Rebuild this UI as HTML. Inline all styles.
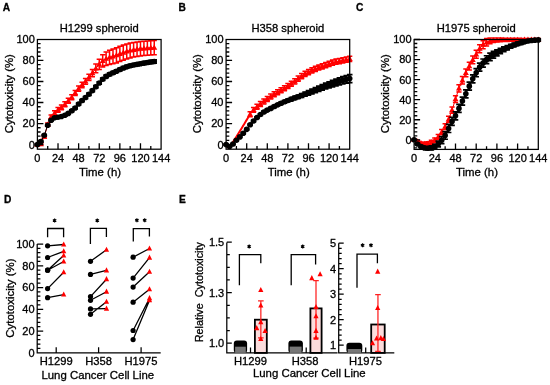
<!DOCTYPE html>
<html><head><meta charset="utf-8"><style>
html,body{margin:0;padding:0;background:#fff;width:550px;height:385px;overflow:hidden}
svg{display:block;will-change:transform;filter:blur(0.3px)}
text{fill:#000;stroke:#000;stroke-width:0.3px}
</style></head><body>
<svg width="550" height="385" viewBox="0 0 550 385" font-family='"Liberation Sans", sans-serif'>
<rect width="550" height="385" fill="#fff"/>
<text x="2.8" y="10.8" font-size="10.2" font-weight="bold">A</text>
<text x="178.4" y="10.8" font-size="10.2" font-weight="bold">B</text>
<text x="356.0" y="10.8" font-size="10.2" font-weight="bold">C</text>
<text x="4.0" y="203.3" font-size="10.2" font-weight="bold">D</text>
<text x="179.0" y="202.9" font-size="10.2" font-weight="bold">E</text>
<text x="99.25" y="31.7" font-size="11.2" text-anchor="middle">H1299 spheroid</text>
<path d="M37.4 144.07V145.13M34.8 144.07H40M34.8 145.13H40M40.84 143.17V144.97M38.24 143.17H43.44M38.24 144.97H43.44M44.27 135.46V137.96M41.67 135.46H46.87M41.67 137.96H46.87M47.71 123.03V126.19M45.11 123.03H50.31M45.11 126.19H50.31M51.14 115.05V118.89M48.54 115.05H53.74M48.54 118.89H53.74M54.58 110.8V115.28M51.98 110.8H57.18M51.98 115.28H57.18M58.02 107.42V112.26M55.42 107.42H60.62M55.42 112.26H60.62M61.45 104.92V109.87M58.85 104.92H64.05M58.85 109.87H64.05M64.89 101.77V106.79M62.29 101.77H67.49M62.29 106.79H67.49M68.32 98.28V103.34M65.72 98.28H70.92M65.72 103.34H70.92M71.76 94.71V99.81M69.16 94.71H74.36M69.16 99.81H74.36M75.2 90.38V95.54M72.6 90.38H77.8M72.6 95.54H77.8M78.63 85.94V91.2M76.03 85.94H81.23M76.03 91.2H81.23M82.07 82.17V87.63M79.47 82.17H84.67M79.47 87.63H84.67M85.51 78.47V84.29M82.91 78.47H88.11M82.91 84.29H88.11M88.94 74.23V80.55M86.34 74.23H91.54M86.34 80.55H91.54M92.38 69.43V76.7M89.78 69.43H94.98M89.78 76.7H94.98M95.81 64.12V72.84M93.21 64.12H98.41M93.21 72.84H98.41M99.25 59.19V69.49M96.65 59.19H101.85M96.65 69.49H101.85M102.69 54.83V67.1M100.09 54.83H105.29M100.09 67.1H105.29M106.12 51.92V65.59M103.52 51.92H108.72M103.52 65.59H108.72M109.56 50.24V64.61M106.96 50.24H112.16M106.96 64.61H112.16M112.99 48.93V63.85M110.39 48.93H115.59M110.39 63.85H115.59M116.43 47.63V62.9M113.83 47.63H119.03M113.83 62.9H119.03M119.87 46.19V61.54M117.27 46.19H122.47M117.27 61.54H122.47M123.3 44.94V60.16M120.7 44.94H125.9M120.7 60.16H125.9M126.74 43.96V58.96M124.14 43.96H129.34M124.14 58.96H129.34M130.17 43.12V57.92M127.57 43.12H132.77M127.57 57.92H132.77M133.61 42.44V57.12M131.01 42.44H136.21M131.01 57.12H136.21M137.05 41.88V56.46M134.45 41.88H139.65M134.45 56.46H139.65M140.48 41.47V55.96M137.88 41.47H143.08M137.88 55.96H143.08M143.92 41.19V55.61M141.32 41.19H146.52M141.32 55.61H146.52M147.36 40.96V55.33M144.76 40.96H149.96M144.76 55.33H149.96M150.79 40.75V55.07M148.19 40.75H153.39M148.19 55.07H153.39M154.23 40.56V54.86M151.63 40.56H156.83M151.63 54.86H156.83" stroke="#ff0000" stroke-width="1.5" fill="none"/>
<polyline points="37.4,144.6 40.84,144.07 44.27,136.71 47.71,124.61 51.14,116.97 54.58,113.04 58.02,109.84 61.45,107.4 64.89,104.28 68.32,100.81 71.76,97.26 75.2,92.96 78.63,88.57 82.07,84.9 85.51,81.38 88.94,77.39 92.38,73.06 95.81,68.48 99.25,64.34 102.69,60.97 106.12,58.76 109.56,57.43 112.99,56.39 116.43,55.26 119.87,53.87 123.3,52.55 126.74,51.46 130.17,50.52 133.61,49.78 137.05,49.17 140.48,48.72 143.92,48.4 147.36,48.14 150.79,47.91 154.23,47.71" stroke="#ff0000" stroke-width="1" fill="none"/>
<path d="M37.4 141.5L40.4 146.7L34.4 146.7Z" fill="#ff0000"/>
<path d="M40.84 140.97L43.84 146.17L37.84 146.17Z" fill="#ff0000"/>
<path d="M44.27 133.61L47.27 138.81L41.27 138.81Z" fill="#ff0000"/>
<path d="M47.71 121.51L50.71 126.71L44.71 126.71Z" fill="#ff0000"/>
<path d="M51.14 113.87L54.14 119.07L48.14 119.07Z" fill="#ff0000"/>
<path d="M54.58 109.94L57.58 115.14L51.58 115.14Z" fill="#ff0000"/>
<path d="M58.02 106.74L61.02 111.94L55.02 111.94Z" fill="#ff0000"/>
<path d="M61.45 104.3L64.45 109.5L58.45 109.5Z" fill="#ff0000"/>
<path d="M64.89 101.18L67.89 106.38L61.89 106.38Z" fill="#ff0000"/>
<path d="M68.32 97.71L71.32 102.91L65.32 102.91Z" fill="#ff0000"/>
<path d="M71.76 94.16L74.76 99.36L68.76 99.36Z" fill="#ff0000"/>
<path d="M75.2 89.86L78.2 95.06L72.2 95.06Z" fill="#ff0000"/>
<path d="M78.63 85.47L81.63 90.67L75.63 90.67Z" fill="#ff0000"/>
<path d="M82.07 81.8L85.07 87L79.07 87Z" fill="#ff0000"/>
<path d="M85.51 78.28L88.51 83.48L82.51 83.48Z" fill="#ff0000"/>
<path d="M88.94 74.29L91.94 79.49L85.94 79.49Z" fill="#ff0000"/>
<path d="M92.38 69.96L95.38 75.16L89.38 75.16Z" fill="#ff0000"/>
<path d="M95.81 65.38L98.81 70.58L92.81 70.58Z" fill="#ff0000"/>
<path d="M99.25 61.24L102.25 66.44L96.25 66.44Z" fill="#ff0000"/>
<path d="M102.69 57.87L105.69 63.07L99.69 63.07Z" fill="#ff0000"/>
<path d="M106.12 55.66L109.12 60.86L103.12 60.86Z" fill="#ff0000"/>
<path d="M109.56 54.33L112.56 59.53L106.56 59.53Z" fill="#ff0000"/>
<path d="M112.99 53.29L115.99 58.49L109.99 58.49Z" fill="#ff0000"/>
<path d="M116.43 52.16L119.43 57.36L113.43 57.36Z" fill="#ff0000"/>
<path d="M119.87 50.77L122.87 55.97L116.87 55.97Z" fill="#ff0000"/>
<path d="M123.3 49.45L126.3 54.65L120.3 54.65Z" fill="#ff0000"/>
<path d="M126.74 48.36L129.74 53.56L123.74 53.56Z" fill="#ff0000"/>
<path d="M130.17 47.42L133.17 52.62L127.17 52.62Z" fill="#ff0000"/>
<path d="M133.61 46.68L136.61 51.88L130.61 51.88Z" fill="#ff0000"/>
<path d="M137.05 46.07L140.05 51.27L134.05 51.27Z" fill="#ff0000"/>
<path d="M140.48 45.62L143.48 50.82L137.48 50.82Z" fill="#ff0000"/>
<path d="M143.92 45.3L146.92 50.5L140.92 50.5Z" fill="#ff0000"/>
<path d="M147.36 45.04L150.36 50.24L144.36 50.24Z" fill="#ff0000"/>
<path d="M150.79 44.81L153.79 50.01L147.79 50.01Z" fill="#ff0000"/>
<path d="M154.23 44.61L157.23 49.81L151.23 49.81Z" fill="#ff0000"/>
<path d="M37.4 144.07V145.13M34.6 144.07H40.2M34.6 145.13H40.2M40.84 141.1V142.23M38.04 141.1H43.64M38.04 142.23H43.64M44.27 134.64V135.85M41.47 134.64H47.07M41.47 135.85H47.07M47.71 124.58V125.86M44.91 124.58H50.51M44.91 125.86H50.51M51.14 119.6V120.96M48.34 119.6H53.94M48.34 120.96H53.94M54.58 117.15V118.58M51.78 117.15H57.38M51.78 118.58H57.38M58.02 116.5V118M55.22 116.5H60.82M55.22 118H60.82M61.45 115.68V117.25M58.65 115.68H64.25M58.65 117.25H64.25M64.89 114.49V116.13M62.09 114.49H67.69M62.09 116.13H67.69M68.32 112.55V114.26M65.52 112.55H71.12M65.52 114.26H71.12M71.76 109.93V111.71M68.96 109.93H74.56M68.96 111.71H74.56M75.2 107.07V108.91M72.4 107.07H78M72.4 108.91H78M78.63 103.1V105.01M75.83 103.1H81.43M75.83 105.01H81.43M82.07 99.57V101.55M79.27 99.57H84.87M79.27 101.55H84.87M85.51 96.52V98.56M82.71 96.52H88.31M82.71 98.56H88.31M88.94 93.21V95.32M86.14 93.21H91.74M86.14 95.32H91.74M92.38 89.54V91.7M89.58 89.54H95.18M89.58 91.7H95.18M95.81 85.7V87.93M93.01 85.7H98.61M93.01 87.93H98.61M99.25 81.82V84.11M96.45 81.82H102.05M96.45 84.11H102.05M102.69 78.1V80.44M99.89 78.1H105.49M99.89 80.44H105.49M106.12 75.17V77.58M103.32 75.17H108.92M103.32 77.58H108.92M109.56 73.12V75.59M106.76 73.12H112.36M106.76 75.59H112.36M112.99 71.5V74.03M110.19 71.5H115.79M110.19 74.03H115.79M116.43 69.93V72.51M113.63 69.93H119.23M113.63 72.51H119.23M119.87 68.23V70.87M117.07 68.23H122.67M117.07 70.87H122.67M123.3 66.68V69.38M120.5 66.68H126.1M120.5 69.38H126.1M126.74 65.45V68.2M123.94 65.45H129.54M123.94 68.2H129.54M130.17 64.41V67.22M127.37 64.41H132.97M127.37 67.22H132.97M133.61 63.58V66.43M130.81 63.58H136.41M130.81 66.43H136.41M137.05 62.89V65.8M134.25 62.89H139.85M134.25 65.8H139.85M140.48 62.25V65.21M137.68 62.25H143.28M137.68 65.21H143.28M143.92 61.61V64.62M141.12 61.61H146.72M141.12 64.62H146.72M147.36 61.01V64.07M144.56 61.01H150.16M144.56 64.07H150.16M150.79 60.45V63.56M147.99 60.45H153.59M147.99 63.56H153.59M154.23 59.91V63.07M151.43 59.91H157.03M151.43 63.07H157.03" stroke="#000" stroke-width="1.7" fill="none"/>
<polyline points="37.4,144.6 40.84,141.66 44.27,135.25 47.71,125.22 51.14,120.28 54.58,117.86 58.02,117.25 61.45,116.47 64.89,115.31 68.32,113.4 71.76,110.82 75.2,107.99 78.63,104.06 82.07,100.56 85.51,97.54 88.94,94.27 92.38,90.62 95.81,86.82 99.25,82.97 102.69,79.27 106.12,76.38 109.56,74.36 112.99,72.76 116.43,71.22 119.87,69.55 123.3,68.03 126.74,66.83 130.17,65.82 133.61,65 137.05,64.34 140.48,63.73 143.92,63.12 147.36,62.54 150.79,62 154.23,61.49" stroke="#000" stroke-width="1" fill="none"/>
<circle cx="37.4" cy="144.6" r="2.8" fill="#000"/>
<circle cx="40.84" cy="141.66" r="2.8" fill="#000"/>
<circle cx="44.27" cy="135.25" r="2.8" fill="#000"/>
<circle cx="47.71" cy="125.22" r="2.8" fill="#000"/>
<circle cx="51.14" cy="120.28" r="2.8" fill="#000"/>
<circle cx="54.58" cy="117.86" r="2.8" fill="#000"/>
<circle cx="58.02" cy="117.25" r="2.8" fill="#000"/>
<circle cx="61.45" cy="116.47" r="2.8" fill="#000"/>
<circle cx="64.89" cy="115.31" r="2.8" fill="#000"/>
<circle cx="68.32" cy="113.4" r="2.8" fill="#000"/>
<circle cx="71.76" cy="110.82" r="2.8" fill="#000"/>
<circle cx="75.2" cy="107.99" r="2.8" fill="#000"/>
<circle cx="78.63" cy="104.06" r="2.8" fill="#000"/>
<circle cx="82.07" cy="100.56" r="2.8" fill="#000"/>
<circle cx="85.51" cy="97.54" r="2.8" fill="#000"/>
<circle cx="88.94" cy="94.27" r="2.8" fill="#000"/>
<circle cx="92.38" cy="90.62" r="2.8" fill="#000"/>
<circle cx="95.81" cy="86.82" r="2.8" fill="#000"/>
<circle cx="99.25" cy="82.97" r="2.8" fill="#000"/>
<circle cx="102.69" cy="79.27" r="2.8" fill="#000"/>
<circle cx="106.12" cy="76.38" r="2.8" fill="#000"/>
<circle cx="109.56" cy="74.36" r="2.8" fill="#000"/>
<circle cx="112.99" cy="72.76" r="2.8" fill="#000"/>
<circle cx="116.43" cy="71.22" r="2.8" fill="#000"/>
<circle cx="119.87" cy="69.55" r="2.8" fill="#000"/>
<circle cx="123.3" cy="68.03" r="2.8" fill="#000"/>
<circle cx="126.74" cy="66.83" r="2.8" fill="#000"/>
<circle cx="130.17" cy="65.82" r="2.8" fill="#000"/>
<circle cx="133.61" cy="65" r="2.8" fill="#000"/>
<circle cx="137.05" cy="64.34" r="2.8" fill="#000"/>
<circle cx="140.48" cy="63.73" r="2.8" fill="#000"/>
<circle cx="143.92" cy="63.12" r="2.8" fill="#000"/>
<circle cx="147.36" cy="62.54" r="2.8" fill="#000"/>
<circle cx="150.79" cy="62" r="2.8" fill="#000"/>
<circle cx="154.23" cy="61.49" r="2.8" fill="#000"/>
<rect x="37.4" y="39.5" width="123.7" height="109.7" fill="none" stroke="#000" stroke-width="1.25"/>
<path d="M37.4 144.6h6M37.4 140.39h3.2M37.4 136.18h3.2M37.4 131.98h3.2M37.4 127.77h3.2M37.4 123.56h6M37.4 119.35h3.2M37.4 115.14h3.2M37.4 110.94h3.2M37.4 106.73h3.2M37.4 102.52h6M37.4 98.31h3.2M37.4 94.1h3.2M37.4 89.9h3.2M37.4 85.69h3.2M37.4 81.48h6M37.4 77.27h3.2M37.4 73.06h3.2M37.4 68.86h3.2M37.4 64.65h3.2M37.4 60.44h6M37.4 56.23h3.2M37.4 52.02h3.2M37.4 47.82h3.2M37.4 43.61h3.2M47.71 149.2v-3.2M58.02 149.2v-6M68.32 149.2v-3.2M78.63 149.2v-6M88.94 149.2v-3.2M99.25 149.2v-6M109.56 149.2v-3.2M119.87 149.2v-6M130.17 149.2v-3.2M140.48 149.2v-6M150.79 149.2v-3.2" stroke="#000" stroke-width="1.3" fill="none"/>
<text x="34.8" y="148.5" font-size="11.0" text-anchor="end">0</text>
<text x="34.8" y="127.46" font-size="11.0" text-anchor="end">20</text>
<text x="34.8" y="106.42" font-size="11.0" text-anchor="end">40</text>
<text x="34.8" y="85.38" font-size="11.0" text-anchor="end">60</text>
<text x="34.8" y="64.34" font-size="11.0" text-anchor="end">80</text>
<text x="34.8" y="43.3" font-size="11.0" text-anchor="end">100</text>
<text x="37.4" y="162.3" font-size="11.0" text-anchor="middle">0</text>
<text x="58.02" y="162.3" font-size="11.0" text-anchor="middle">24</text>
<text x="78.63" y="162.3" font-size="11.0" text-anchor="middle">48</text>
<text x="99.25" y="162.3" font-size="11.0" text-anchor="middle">72</text>
<text x="119.87" y="162.3" font-size="11.0" text-anchor="middle">96</text>
<text x="140.48" y="162.3" font-size="11.0" text-anchor="middle">120</text>
<text x="161.1" y="162.3" font-size="11.0" text-anchor="middle">144</text>
<text x="100.05" y="175.8" font-size="11.4" text-anchor="middle">Time (h)</text>
<text transform="translate(12.8,93.65) rotate(-90)" font-size="11.4" text-anchor="middle">Cytotoxicity (%)</text>
<text x="287.9" y="31.7" font-size="11.2" text-anchor="middle">H358 spheroid</text>
<path d="M250.13 111.86V116.74M247.53 111.86H252.73M247.53 116.74H252.73M253.57 107.43V112.34M250.97 107.43H256.17M250.97 112.34H256.17M257 104.37V109.32M254.4 104.37H259.6M254.4 109.32H259.6M260.43 101.61V106.58M257.83 101.61H263.03M257.83 106.58H263.03M263.87 98.97V103.97M261.27 98.97H266.47M261.27 103.97H266.47M267.3 96.44V101.46M264.7 96.44H269.9M264.7 101.46H269.9M270.73 94.04V99.09M268.13 94.04H273.33M268.13 99.09H273.33M274.17 91.79V96.86M271.57 91.79H276.77M271.57 96.86H276.77M277.6 89.7V94.79M275 89.7H280.2M275 94.79H280.2M281.03 87.75V92.87M278.43 87.75H283.63M278.43 92.87H283.63M284.47 85.69V90.82M281.87 85.69H287.07M281.87 90.82H287.07M287.9 83.47V88.61M285.3 83.47H290.5M285.3 88.61H290.5M291.33 81.14V86.3M288.73 81.14H293.93M288.73 86.3H293.93M294.77 78.7V83.88M292.17 78.7H297.37M292.17 83.88H297.37M298.2 76.05V81.24M295.6 76.05H300.8M295.6 81.24H300.8M301.63 73.49V78.69M299.03 73.49H304.23M299.03 78.69H304.23M305.07 71.33V76.54M302.47 71.33H307.67M302.47 76.54H307.67M308.5 69.42V74.64M305.9 69.42H311.1M305.9 74.64H311.1M311.93 67.71V72.94M309.33 67.71H314.53M309.33 72.94H314.53M315.37 66.2V71.43M312.77 66.2H317.97M312.77 71.43H317.97M318.8 64.88V70.12M316.2 64.88H321.4M316.2 70.12H321.4M322.23 63.68V68.93M319.63 63.68H324.83M319.63 68.93H324.83M325.67 62.49V67.74M323.07 62.49H328.27M323.07 67.74H328.27M329.1 61.2V66.46M326.5 61.2H331.7M326.5 66.46H331.7M332.53 59.99V65.25M329.93 59.99H335.13M329.93 65.25H335.13M335.97 59.09V64.34M333.37 59.09H338.57M333.37 64.34H338.57M339.4 58.4V63.66M336.8 58.4H342M336.8 63.66H342M342.83 57.74V63M340.23 57.74H345.43M340.23 63H345.43M346.27 57V62.26M343.67 57H348.87M343.67 62.26H348.87M349.7 56.23V61.49M347.1 56.23H352.3M347.1 61.49H352.3" stroke="#ff0000" stroke-width="1.5" fill="none"/>
<polyline points="226.1,144.6 229.53,147.76 232.97,142.08 236.4,136.71 239.83,131.24 243.27,125.56 246.7,119.88 250.13,114.3 253.57,109.88 257,106.84 260.43,104.09 263.87,101.47 267.3,98.95 270.73,96.56 274.17,94.33 277.6,92.25 281.03,90.31 284.47,88.26 287.9,86.04 291.33,83.72 294.77,81.29 298.2,78.64 301.63,76.09 305.07,73.93 308.5,72.03 311.93,70.33 315.37,68.81 318.8,67.5 322.23,66.3 325.67,65.11 329.1,63.83 332.53,62.62 335.97,61.71 339.4,61.03 342.83,60.37 346.27,59.63 349.7,58.86" stroke="#ff0000" stroke-width="1" fill="none"/>
<polyline points="226.1,144.6 226.96,146.33 227.82,147.27 228.67,147.67 229.53,147.76 230.39,146.79 231.25,145.13 232.11,143.61 232.97,142.08 233.82,140.68 234.68,139.35 235.54,138.04 236.4,136.71 237.26,135.35 238.12,133.99 238.97,132.62 239.83,131.24 240.69,129.83 241.55,128.41 242.41,126.98 243.27,125.56 244.12,124.14 244.98,122.71 245.84,121.29 246.7,119.88 247.56,118.45 248.42,117 249.27,115.6 250.13,114.3" stroke="#ff0000" stroke-width="2.0" fill="none" stroke-linejoin="round"/>
<path d="M250.13 111.2L253.13 116.4L247.13 116.4Z" fill="#ff0000"/>
<path d="M253.57 106.78L256.57 111.98L250.57 111.98Z" fill="#ff0000"/>
<path d="M257 103.74L260 108.94L254 108.94Z" fill="#ff0000"/>
<path d="M260.43 100.99L263.43 106.19L257.43 106.19Z" fill="#ff0000"/>
<path d="M263.87 98.37L266.87 103.57L260.87 103.57Z" fill="#ff0000"/>
<path d="M267.3 95.85L270.3 101.05L264.3 101.05Z" fill="#ff0000"/>
<path d="M270.73 93.46L273.73 98.66L267.73 98.66Z" fill="#ff0000"/>
<path d="M274.17 91.23L277.17 96.43L271.17 96.43Z" fill="#ff0000"/>
<path d="M277.6 89.15L280.6 94.35L274.6 94.35Z" fill="#ff0000"/>
<path d="M281.03 87.21L284.03 92.41L278.03 92.41Z" fill="#ff0000"/>
<path d="M284.47 85.16L287.47 90.36L281.47 90.36Z" fill="#ff0000"/>
<path d="M287.9 82.94L290.9 88.14L284.9 88.14Z" fill="#ff0000"/>
<path d="M291.33 80.62L294.33 85.82L288.33 85.82Z" fill="#ff0000"/>
<path d="M294.77 78.19L297.77 83.39L291.77 83.39Z" fill="#ff0000"/>
<path d="M298.2 75.54L301.2 80.74L295.2 80.74Z" fill="#ff0000"/>
<path d="M301.63 72.99L304.63 78.19L298.63 78.19Z" fill="#ff0000"/>
<path d="M305.07 70.83L308.07 76.03L302.07 76.03Z" fill="#ff0000"/>
<path d="M308.5 68.93L311.5 74.13L305.5 74.13Z" fill="#ff0000"/>
<path d="M311.93 67.23L314.93 72.43L308.93 72.43Z" fill="#ff0000"/>
<path d="M315.37 65.71L318.37 70.91L312.37 70.91Z" fill="#ff0000"/>
<path d="M318.8 64.4L321.8 69.6L315.8 69.6Z" fill="#ff0000"/>
<path d="M322.23 63.2L325.23 68.4L319.23 68.4Z" fill="#ff0000"/>
<path d="M325.67 62.01L328.67 67.21L322.67 67.21Z" fill="#ff0000"/>
<path d="M329.1 60.73L332.1 65.93L326.1 65.93Z" fill="#ff0000"/>
<path d="M332.53 59.52L335.53 64.72L329.53 64.72Z" fill="#ff0000"/>
<path d="M335.97 58.61L338.97 63.81L332.97 63.81Z" fill="#ff0000"/>
<path d="M339.4 57.93L342.4 63.13L336.4 63.13Z" fill="#ff0000"/>
<path d="M342.83 57.27L345.83 62.47L339.83 62.47Z" fill="#ff0000"/>
<path d="M346.27 56.53L349.27 61.73L343.27 61.73Z" fill="#ff0000"/>
<path d="M349.7 55.76L352.7 60.96L346.7 60.96Z" fill="#ff0000"/>
<path d="M226.1 144.07V145.13M223.3 144.07H228.9M223.3 145.13H228.9M229.53 145.96V147.02M226.73 145.96H232.33M226.73 147.02H232.33M232.97 143.54V144.61M230.17 143.54H235.77M230.17 144.61H235.77M236.4 139.63V140.73M233.6 139.63H239.2M233.6 140.73H239.2M239.83 136.35V137.49M237.03 136.35H242.63M237.03 137.49H242.63M243.27 132.64V133.84M240.47 132.64H246.07M240.47 133.84H246.07M246.7 128.72V129.98M243.9 128.72H249.5M243.9 129.98H249.5M250.13 124.16V125.49M247.33 124.16H252.93M247.33 125.49H252.93M253.57 120.35V121.75M250.77 120.35H256.37M250.77 121.75H256.37M257 116.8V118.29M254.2 116.8H259.8M254.2 118.29H259.8M260.43 113.73V115.31M257.63 113.73H263.23M257.63 115.31H263.23M263.87 111.15V112.83M261.07 111.15H266.67M261.07 112.83H266.67M267.3 109.21V110.99M264.5 109.21H270.1M264.5 110.99H270.1M270.73 107.44V109.32M267.93 107.44H273.53M267.93 109.32H273.53M274.17 105.55V107.54M271.37 105.55H276.97M271.37 107.54H276.97M277.6 103.8V105.9M274.8 103.8H280.4M274.8 105.9H280.4M281.03 102.16V104.4M278.23 102.16H283.83M278.23 104.4H283.83M284.47 100.6V103.03M281.67 100.6H287.27M281.67 103.03H287.27M287.9 99.13V101.77M285.1 99.13H290.7M285.1 101.77H290.7M291.33 97.71V100.6M288.53 97.71H294.13M288.53 100.6H294.13M294.77 96.32V99.49M291.97 96.32H297.57M291.97 99.49H297.57M298.2 94.99V98.45M295.4 94.99H301M295.4 98.45H301M301.63 93.65V97.4M298.83 93.65H304.43M298.83 97.4H304.43M305.07 92.22V96.27M302.27 92.22H307.87M302.27 96.27H307.87M308.5 90.7V95.05M305.7 90.7H311.3M305.7 95.05H311.3M311.93 89.15V93.78M309.13 89.15H314.73M309.13 93.78H314.73M315.37 87.63V92.53M312.57 87.63H318.17M312.57 92.53H318.17M318.8 86.11V91.3M316 86.11H321.6M316 91.3H321.6M322.23 84.61V90.09M319.43 84.61H325.03M319.43 90.09H325.03M325.67 83.16V88.94M322.87 83.16H328.47M322.87 88.94H328.47M329.1 81.77V87.85M326.3 81.77H331.9M326.3 87.85H331.9M332.53 80.44V86.83M329.73 80.44H335.33M329.73 86.83H335.33M335.97 79.14V85.84M333.17 79.14H338.77M333.17 85.84H338.77M339.4 77.85V84.87M336.6 77.85H342.2M336.6 84.87H342.2M342.83 76.64V83.98M340.03 76.64H345.63M340.03 83.98H345.63M346.27 75.54V83.2M343.47 75.54H349.07M343.47 83.2H349.07M349.7 74.54V82.53M346.9 74.54H352.5M346.9 82.53H352.5" stroke="#000" stroke-width="1.7" fill="none"/>
<polyline points="226.1,144.6 229.53,146.49 232.97,144.07 236.4,140.18 239.83,136.92 243.27,133.24 246.7,129.35 250.13,124.82 253.57,121.05 257,117.54 260.43,114.52 263.87,111.99 267.3,110.1 270.73,108.38 274.17,106.55 277.6,104.85 281.03,103.28 284.47,101.81 287.9,100.45 291.33,99.16 294.77,97.9 298.2,96.72 301.63,95.53 305.07,94.25 308.5,92.87 311.93,91.46 315.37,90.08 318.8,88.7 322.23,87.35 325.67,86.05 329.1,84.81 332.53,83.63 335.97,82.49 339.4,81.36 342.83,80.31 346.27,79.37 349.7,78.53" stroke="#000" stroke-width="1" fill="none"/>
<circle cx="226.1" cy="144.6" r="2.8" fill="#000"/>
<circle cx="229.53" cy="146.49" r="2.8" fill="#000"/>
<circle cx="232.97" cy="144.07" r="2.8" fill="#000"/>
<circle cx="236.4" cy="140.18" r="2.8" fill="#000"/>
<circle cx="239.83" cy="136.92" r="2.8" fill="#000"/>
<circle cx="243.27" cy="133.24" r="2.8" fill="#000"/>
<circle cx="246.7" cy="129.35" r="2.8" fill="#000"/>
<circle cx="250.13" cy="124.82" r="2.8" fill="#000"/>
<circle cx="253.57" cy="121.05" r="2.8" fill="#000"/>
<circle cx="257" cy="117.54" r="2.8" fill="#000"/>
<circle cx="260.43" cy="114.52" r="2.8" fill="#000"/>
<circle cx="263.87" cy="111.99" r="2.8" fill="#000"/>
<circle cx="267.3" cy="110.1" r="2.8" fill="#000"/>
<circle cx="270.73" cy="108.38" r="2.8" fill="#000"/>
<circle cx="274.17" cy="106.55" r="2.8" fill="#000"/>
<circle cx="277.6" cy="104.85" r="2.8" fill="#000"/>
<circle cx="281.03" cy="103.28" r="2.8" fill="#000"/>
<circle cx="284.47" cy="101.81" r="2.8" fill="#000"/>
<circle cx="287.9" cy="100.45" r="2.8" fill="#000"/>
<circle cx="291.33" cy="99.16" r="2.8" fill="#000"/>
<circle cx="294.77" cy="97.9" r="2.8" fill="#000"/>
<circle cx="298.2" cy="96.72" r="2.8" fill="#000"/>
<circle cx="301.63" cy="95.53" r="2.8" fill="#000"/>
<circle cx="305.07" cy="94.25" r="2.8" fill="#000"/>
<circle cx="308.5" cy="92.87" r="2.8" fill="#000"/>
<circle cx="311.93" cy="91.46" r="2.8" fill="#000"/>
<circle cx="315.37" cy="90.08" r="2.8" fill="#000"/>
<circle cx="318.8" cy="88.7" r="2.8" fill="#000"/>
<circle cx="322.23" cy="87.35" r="2.8" fill="#000"/>
<circle cx="325.67" cy="86.05" r="2.8" fill="#000"/>
<circle cx="329.1" cy="84.81" r="2.8" fill="#000"/>
<circle cx="332.53" cy="83.63" r="2.8" fill="#000"/>
<circle cx="335.97" cy="82.49" r="2.8" fill="#000"/>
<circle cx="339.4" cy="81.36" r="2.8" fill="#000"/>
<circle cx="342.83" cy="80.31" r="2.8" fill="#000"/>
<circle cx="346.27" cy="79.37" r="2.8" fill="#000"/>
<circle cx="349.7" cy="78.53" r="2.8" fill="#000"/>
<rect x="226.1" y="39.5" width="123.6" height="109.7" fill="none" stroke="#000" stroke-width="1.25"/>
<path d="M226.1 144.6h6M226.1 140.39h3.2M226.1 136.18h3.2M226.1 131.98h3.2M226.1 127.77h3.2M226.1 123.56h6M226.1 119.35h3.2M226.1 115.14h3.2M226.1 110.94h3.2M226.1 106.73h3.2M226.1 102.52h6M226.1 98.31h3.2M226.1 94.1h3.2M226.1 89.9h3.2M226.1 85.69h3.2M226.1 81.48h6M226.1 77.27h3.2M226.1 73.06h3.2M226.1 68.86h3.2M226.1 64.65h3.2M226.1 60.44h6M226.1 56.23h3.2M226.1 52.02h3.2M226.1 47.82h3.2M226.1 43.61h3.2M236.4 149.2v-3.2M246.7 149.2v-6M257 149.2v-3.2M267.3 149.2v-6M277.6 149.2v-3.2M287.9 149.2v-6M298.2 149.2v-3.2M308.5 149.2v-6M318.8 149.2v-3.2M329.1 149.2v-6M339.4 149.2v-3.2" stroke="#000" stroke-width="1.3" fill="none"/>
<text x="223.5" y="148.5" font-size="11.0" text-anchor="end">0</text>
<text x="223.5" y="127.46" font-size="11.0" text-anchor="end">20</text>
<text x="223.5" y="106.42" font-size="11.0" text-anchor="end">40</text>
<text x="223.5" y="85.38" font-size="11.0" text-anchor="end">60</text>
<text x="223.5" y="64.34" font-size="11.0" text-anchor="end">80</text>
<text x="223.5" y="43.3" font-size="11.0" text-anchor="end">100</text>
<text x="226.1" y="162.3" font-size="11.0" text-anchor="middle">0</text>
<text x="246.7" y="162.3" font-size="11.0" text-anchor="middle">24</text>
<text x="267.3" y="162.3" font-size="11.0" text-anchor="middle">48</text>
<text x="287.9" y="162.3" font-size="11.0" text-anchor="middle">72</text>
<text x="308.5" y="162.3" font-size="11.0" text-anchor="middle">96</text>
<text x="329.1" y="162.3" font-size="11.0" text-anchor="middle">120</text>
<text x="349.7" y="162.3" font-size="11.0" text-anchor="middle">144</text>
<text x="288.7" y="175.8" font-size="11.4" text-anchor="middle">Time (h)</text>
<text transform="translate(200.6,93.65) rotate(-90)" font-size="11.4" text-anchor="middle">Cytotoxicity (%)</text>
<text x="476.2" y="31.7" font-size="11.2" text-anchor="middle">H1975 spheroid</text>
<path d="M414.1 139.3V140.3M411.5 139.3H416.7M411.5 140.3H416.7M417.55 140.56V142.25M414.95 140.56H420.15M414.95 142.25H420.15M421 141.98V144.32M418.4 141.98H423.6M418.4 144.32H423.6M424.45 142.29V145.23M421.85 142.29H427.05M421.85 145.23H427.05M427.9 141.75V145.25M425.3 141.75H430.5M425.3 145.25H430.5M431.35 140.3V144.31M428.75 140.3H433.95M428.75 144.31H433.95M434.8 137.96V142.43M432.2 137.96H437.4M432.2 142.43H437.4M438.25 134.51V139.4M435.65 134.51H440.85M435.65 139.4H440.85M441.7 129.58V134.87M439.1 129.58H444.3M439.1 134.87H444.3M445.15 123.85V129.5M442.55 123.85H447.75M442.55 129.5H447.75M448.6 116.33V122.35M446 116.33H451.2M446 122.35H451.2M452.05 106.92V113.32M449.45 106.92H454.65M449.45 113.32H454.65M455.5 95.73V102.51M452.9 95.73H458.1M452.9 102.51H458.1M458.95 84.8V91.94M456.35 84.8H461.55M456.35 91.94H461.55M462.4 76.61V84.04M459.8 76.61H465M459.8 84.04H465M465.85 69.04V76.67M463.25 69.04H468.45M463.25 76.67H468.45M469.3 62.37V70.12M466.7 62.37H471.9M466.7 70.12H471.9M472.75 55.98V63.84M470.15 55.98H475.35M470.15 63.84H475.35M476.2 50.37V58.31M473.6 50.37H478.8M473.6 58.31H478.8M479.65 44.68V52.68M477.05 44.68H482.25M477.05 52.68H482.25M483.1 40.65V48.67M480.5 40.65H485.7M480.5 48.67H485.7M486.55 38.62V46M483.95 38.62H489.15M483.95 46H489.15M490 37.91V43.86M487.4 37.91H492.6M487.4 43.86H492.6M493.45 38.03V42.59M490.85 38.03H496.05M490.85 42.59H496.05M496.9 38.05V42M494.3 38.05H499.5M494.3 42H499.5M500.35 38.06V41.75M497.75 38.06H502.95M497.75 41.75H502.95M503.8 38.13V41.59M501.2 38.13H506.4M501.2 41.59H506.4M507.25 38.2V41.46M504.65 38.2H509.85M504.65 41.46H509.85M510.7 38.26V41.34M508.1 38.26H513.3M508.1 41.34H513.3M514.15 38.32V41.23M511.55 38.32H516.75M511.55 41.23H516.75M517.6 38.36V41.14M515 38.36H520.2M515 41.14H520.2M521.05 38.4V41.07M518.45 38.4H523.65M518.45 41.07H523.65M524.5 38.44V41.01M521.9 38.44H527.1M521.9 41.01H527.1M527.95 38.46V40.96M525.35 38.46H530.55M525.35 40.96H530.55M531.4 38.48V40.93M528.8 38.48H534M528.8 40.93H534M534.85 38.49V40.91M532.25 38.49H537.45M532.25 40.91H537.45M538.3 38.5V40.9M535.7 38.5H540.9M535.7 40.9H540.9" stroke="#ff0000" stroke-width="1.5" fill="none"/>
<polyline points="414.1,139.8 417.55,141.4 421,143.15 424.45,143.76 427.9,143.5 431.35,142.31 434.8,140.19 438.25,136.95 441.7,132.22 445.15,126.68 448.6,119.34 452.05,110.12 455.5,99.12 458.95,88.37 462.4,80.32 465.85,72.85 469.3,66.25 472.75,59.91 476.2,54.34 479.65,48.68 483.1,44.66 486.55,42.31 490,40.88 493.45,40.31 496.9,40.03 500.35,39.9 503.8,39.86 507.25,39.83 510.7,39.8 514.15,39.77 517.6,39.75 521.05,39.74 524.5,39.72 527.95,39.71 531.4,39.71 534.85,39.7 538.3,39.7" stroke="#ff0000" stroke-width="1" fill="none"/>
<path d="M414.1 136.7L417.1 141.9L411.1 141.9Z" fill="#ff0000"/>
<path d="M417.55 138.3L420.55 143.5L414.55 143.5Z" fill="#ff0000"/>
<path d="M421 140.05L424 145.25L418 145.25Z" fill="#ff0000"/>
<path d="M424.45 140.66L427.45 145.86L421.45 145.86Z" fill="#ff0000"/>
<path d="M427.9 140.4L430.9 145.6L424.9 145.6Z" fill="#ff0000"/>
<path d="M431.35 139.21L434.35 144.41L428.35 144.41Z" fill="#ff0000"/>
<path d="M434.8 137.09L437.8 142.29L431.8 142.29Z" fill="#ff0000"/>
<path d="M438.25 133.85L441.25 139.05L435.25 139.05Z" fill="#ff0000"/>
<path d="M441.7 129.12L444.7 134.32L438.7 134.32Z" fill="#ff0000"/>
<path d="M445.15 123.58L448.15 128.78L442.15 128.78Z" fill="#ff0000"/>
<path d="M448.6 116.24L451.6 121.44L445.6 121.44Z" fill="#ff0000"/>
<path d="M452.05 107.02L455.05 112.22L449.05 112.22Z" fill="#ff0000"/>
<path d="M455.5 96.02L458.5 101.22L452.5 101.22Z" fill="#ff0000"/>
<path d="M458.95 85.27L461.95 90.47L455.95 90.47Z" fill="#ff0000"/>
<path d="M462.4 77.22L465.4 82.42L459.4 82.42Z" fill="#ff0000"/>
<path d="M465.85 69.75L468.85 74.95L462.85 74.95Z" fill="#ff0000"/>
<path d="M469.3 63.15L472.3 68.35L466.3 68.35Z" fill="#ff0000"/>
<path d="M472.75 56.81L475.75 62.01L469.75 62.01Z" fill="#ff0000"/>
<path d="M476.2 51.24L479.2 56.44L473.2 56.44Z" fill="#ff0000"/>
<path d="M479.65 45.58L482.65 50.78L476.65 50.78Z" fill="#ff0000"/>
<path d="M483.1 41.56L486.1 46.76L480.1 46.76Z" fill="#ff0000"/>
<path d="M486.55 39.21L489.55 44.41L483.55 44.41Z" fill="#ff0000"/>
<path d="M490 37.78L493 42.98L487 42.98Z" fill="#ff0000"/>
<path d="M493.45 37.21L496.45 42.41L490.45 42.41Z" fill="#ff0000"/>
<path d="M496.9 36.93L499.9 42.13L493.9 42.13Z" fill="#ff0000"/>
<path d="M500.35 36.8L503.35 42L497.35 42Z" fill="#ff0000"/>
<path d="M503.8 36.76L506.8 41.96L500.8 41.96Z" fill="#ff0000"/>
<path d="M507.25 36.73L510.25 41.93L504.25 41.93Z" fill="#ff0000"/>
<path d="M510.7 36.7L513.7 41.9L507.7 41.9Z" fill="#ff0000"/>
<path d="M514.15 36.67L517.15 41.87L511.15 41.87Z" fill="#ff0000"/>
<path d="M517.6 36.65L520.6 41.85L514.6 41.85Z" fill="#ff0000"/>
<path d="M521.05 36.64L524.05 41.84L518.05 41.84Z" fill="#ff0000"/>
<path d="M524.5 36.62L527.5 41.82L521.5 41.82Z" fill="#ff0000"/>
<path d="M527.95 36.61L530.95 41.81L524.95 41.81Z" fill="#ff0000"/>
<path d="M531.4 36.61L534.4 41.81L528.4 41.81Z" fill="#ff0000"/>
<path d="M534.85 36.6L537.85 41.8L531.85 41.8Z" fill="#ff0000"/>
<path d="M538.3 36.6L541.3 41.8L535.3 41.8Z" fill="#ff0000"/>
<path d="M414.1 139.3V140.3M411.3 139.3H416.9M411.3 140.3H416.9M417.55 143.25V144.78M414.75 143.25H420.35M414.75 144.78H420.35M421 145.49V147.58M418.2 145.49H423.8M418.2 147.58H423.8M424.45 146.54V149.23M421.65 146.54H427.25M421.65 149.23H427.25M427.9 146.63V149.97M425.1 146.63H430.7M425.1 149.97H430.7M431.35 145.82V149.83M428.55 145.82H434.15M428.55 149.83H434.15M434.8 144.3V149.17M432 144.3H437.6M432 149.17H437.6M438.25 141.05V146.97M435.45 141.05H441.05M435.45 146.97H441.05M441.7 136.71V143.65M438.9 136.71H444.5M438.9 143.65H444.5M445.15 131.55V139.27M442.35 131.55H447.95M442.35 139.27H447.95M448.6 124.45V132.48M445.8 124.45H451.4M445.8 132.48H451.4M452.05 117.39V125.41M449.25 117.39H454.85M449.25 125.41H454.85M455.5 111.79V119.82M452.7 111.79H458.3M452.7 119.82H458.3M458.95 104.37V112.39M456.15 104.37H461.75M456.15 112.39H461.75M462.4 97.07V105.1M459.6 97.07H465.2M459.6 105.1H465.2M465.85 89.86V97.88M463.05 89.86H468.65M463.05 97.88H468.65M469.3 82.12V90.14M466.5 82.12H472.1M466.5 90.14H472.1M472.75 74.83V82.85M469.95 74.83H475.55M469.95 82.85H475.55M476.2 68.7V76.73M473.4 68.7H479M473.4 76.73H479M479.65 63.13V71.15M476.85 63.13H482.45M476.85 71.15H482.45M483.1 59.02V67.05M480.3 59.02H485.9M480.3 67.05H485.9M486.55 55.74V63.6M483.75 55.74H489.35M483.75 63.6H489.35M490 53.21V60.66M487.2 53.21H492.8M487.2 60.66H492.8M493.45 51.37V58.21M490.65 51.37H496.25M490.65 58.21H496.25M496.9 49.75V55.9M494.1 49.75H499.7M494.1 55.9H499.7M500.35 48.3V53.72M497.55 48.3H503.15M497.55 53.72H503.15M503.8 46.93V51.68M501 46.93H506.6M501 51.68H506.6M507.25 45.6V49.8M504.45 45.6H510.05M504.45 49.8H510.05M510.7 44.33V48.18M507.9 44.33H513.5M507.9 48.18H513.5M514.15 43.22V46.74M511.35 43.22H516.95M511.35 46.74H516.95M517.6 42.22V45.45M514.8 42.22H520.4M514.8 45.45H520.4M521.05 41.34V44.28M518.25 41.34H523.85M518.25 44.28H523.85M524.5 40.49V43.17M521.7 40.49H527.3M521.7 43.17H527.3M527.95 39.82V42.27M525.15 39.82H530.75M525.15 42.27H530.75M531.4 39.4V41.66M528.6 39.4H534.2M528.6 41.66H534.2M534.85 39.07V41.18M532.05 39.07H537.65M532.05 41.18H537.65M538.3 38.9V40.9M535.5 38.9H541.1M535.5 40.9H541.1" stroke="#000" stroke-width="1.7" fill="none"/>
<polyline points="414.1,139.8 417.55,144.01 421,146.54 424.45,147.88 427.9,148.3 431.35,147.82 434.8,146.74 438.25,144.01 441.7,140.18 445.15,135.41 448.6,128.47 452.05,121.4 455.5,115.8 458.95,108.38 462.4,101.09 465.85,93.87 469.3,86.13 472.75,78.84 476.2,72.72 479.65,67.14 483.1,63.04 486.55,59.67 490,56.93 493.45,54.79 496.9,52.83 500.35,51.01 503.8,49.31 507.25,47.7 510.7,46.25 514.15,44.98 517.6,43.83 521.05,42.81 524.5,41.83 527.95,41.05 531.4,40.53 534.85,40.13 538.3,39.9" stroke="#000" stroke-width="1" fill="none"/>
<circle cx="414.1" cy="139.8" r="2.8" fill="#000"/>
<circle cx="417.55" cy="144.01" r="2.8" fill="#000"/>
<circle cx="421" cy="146.54" r="2.8" fill="#000"/>
<circle cx="424.45" cy="147.88" r="2.8" fill="#000"/>
<circle cx="427.9" cy="148.3" r="2.8" fill="#000"/>
<circle cx="431.35" cy="147.82" r="2.8" fill="#000"/>
<circle cx="434.8" cy="146.74" r="2.8" fill="#000"/>
<circle cx="438.25" cy="144.01" r="2.8" fill="#000"/>
<circle cx="441.7" cy="140.18" r="2.8" fill="#000"/>
<circle cx="445.15" cy="135.41" r="2.8" fill="#000"/>
<circle cx="448.6" cy="128.47" r="2.8" fill="#000"/>
<circle cx="452.05" cy="121.4" r="2.8" fill="#000"/>
<circle cx="455.5" cy="115.8" r="2.8" fill="#000"/>
<circle cx="458.95" cy="108.38" r="2.8" fill="#000"/>
<circle cx="462.4" cy="101.09" r="2.8" fill="#000"/>
<circle cx="465.85" cy="93.87" r="2.8" fill="#000"/>
<circle cx="469.3" cy="86.13" r="2.8" fill="#000"/>
<circle cx="472.75" cy="78.84" r="2.8" fill="#000"/>
<circle cx="476.2" cy="72.72" r="2.8" fill="#000"/>
<circle cx="479.65" cy="67.14" r="2.8" fill="#000"/>
<circle cx="483.1" cy="63.04" r="2.8" fill="#000"/>
<circle cx="486.55" cy="59.67" r="2.8" fill="#000"/>
<circle cx="490" cy="56.93" r="2.8" fill="#000"/>
<circle cx="493.45" cy="54.79" r="2.8" fill="#000"/>
<circle cx="496.9" cy="52.83" r="2.8" fill="#000"/>
<circle cx="500.35" cy="51.01" r="2.8" fill="#000"/>
<circle cx="503.8" cy="49.31" r="2.8" fill="#000"/>
<circle cx="507.25" cy="47.7" r="2.8" fill="#000"/>
<circle cx="510.7" cy="46.25" r="2.8" fill="#000"/>
<circle cx="514.15" cy="44.98" r="2.8" fill="#000"/>
<circle cx="517.6" cy="43.83" r="2.8" fill="#000"/>
<circle cx="521.05" cy="42.81" r="2.8" fill="#000"/>
<circle cx="524.5" cy="41.83" r="2.8" fill="#000"/>
<circle cx="527.95" cy="41.05" r="2.8" fill="#000"/>
<circle cx="531.4" cy="40.53" r="2.8" fill="#000"/>
<circle cx="534.85" cy="40.13" r="2.8" fill="#000"/>
<circle cx="538.3" cy="39.9" r="2.8" fill="#000"/>
<rect x="414.1" y="39.5" width="124.2" height="109.9" fill="none" stroke="#000" stroke-width="1.25"/>
<path d="M414.1 147.82h3.2M414.1 143.81h3.2M414.1 139.8h6M414.1 135.79h3.2M414.1 131.78h3.2M414.1 127.76h3.2M414.1 123.75h3.2M414.1 119.74h6M414.1 115.73h3.2M414.1 111.72h3.2M414.1 107.7h3.2M414.1 103.69h3.2M414.1 99.68h6M414.1 95.67h3.2M414.1 91.66h3.2M414.1 87.64h3.2M414.1 83.63h3.2M414.1 79.62h6M414.1 75.61h3.2M414.1 71.6h3.2M414.1 67.58h3.2M414.1 63.57h3.2M414.1 59.56h6M414.1 55.55h3.2M414.1 51.54h3.2M414.1 47.52h3.2M414.1 43.51h3.2M414.1 39.5h6M424.45 149.4v-3.2M434.8 149.4v-6M445.15 149.4v-3.2M455.5 149.4v-6M465.85 149.4v-3.2M476.2 149.4v-6M486.55 149.4v-3.2M496.9 149.4v-6M507.25 149.4v-3.2M517.6 149.4v-6M527.95 149.4v-3.2" stroke="#000" stroke-width="1.3" fill="none"/>
<text x="411.5" y="143.7" font-size="11.0" text-anchor="end">0</text>
<text x="411.5" y="123.64" font-size="11.0" text-anchor="end">20</text>
<text x="411.5" y="103.58" font-size="11.0" text-anchor="end">40</text>
<text x="411.5" y="83.52" font-size="11.0" text-anchor="end">60</text>
<text x="411.5" y="63.46" font-size="11.0" text-anchor="end">80</text>
<text x="411.5" y="43.4" font-size="11.0" text-anchor="end">100</text>
<text x="414.1" y="162.3" font-size="11.0" text-anchor="middle">0</text>
<text x="434.8" y="162.3" font-size="11.0" text-anchor="middle">24</text>
<text x="455.5" y="162.3" font-size="11.0" text-anchor="middle">48</text>
<text x="476.2" y="162.3" font-size="11.0" text-anchor="middle">72</text>
<text x="496.9" y="162.3" font-size="11.0" text-anchor="middle">96</text>
<text x="517.6" y="162.3" font-size="11.0" text-anchor="middle">120</text>
<text x="538.3" y="162.3" font-size="11.0" text-anchor="middle">144</text>
<text x="477" y="175.8" font-size="11.4" text-anchor="middle">Time (h)</text>
<text transform="translate(389.1,93.75) rotate(-90)" font-size="11.4" text-anchor="middle">Cytotoxicity (%)</text>
<path d="M37.2 244V352.8H160.7M37.2 352.8h6M37.2 348.45h3.2M37.2 344.1h3.2M37.2 339.74h3.2M37.2 335.39h3.2M37.2 331.04h6M37.2 326.69h3.2M37.2 322.34h3.2M37.2 317.98h3.2M37.2 313.63h3.2M37.2 309.28h6M37.2 304.93h3.2M37.2 300.58h3.2M37.2 296.22h3.2M37.2 291.87h3.2M37.2 287.52h6M37.2 283.17h3.2M37.2 278.82h3.2M37.2 274.46h3.2M37.2 270.11h3.2M37.2 265.76h6M37.2 261.41h3.2M37.2 257.06h3.2M37.2 252.7h3.2M37.2 248.35h3.2M37.2 244h6M56.2 352.8v-5.5M98.6 352.8v-5.5M141.1 352.8v-5.5" stroke="#000" stroke-width="1.25" fill="none"/>
<text x="34.6" y="356.7" font-size="11.0" text-anchor="end">0</text>
<text x="34.6" y="334.94" font-size="11.0" text-anchor="end">20</text>
<text x="34.6" y="313.18" font-size="11.0" text-anchor="end">40</text>
<text x="34.6" y="291.42" font-size="11.0" text-anchor="end">60</text>
<text x="34.6" y="269.66" font-size="11.0" text-anchor="end">80</text>
<text x="34.6" y="247.9" font-size="11.0" text-anchor="end">100</text>
<text x="56.2" y="365.3" font-size="11.2" text-anchor="middle">H1299</text>
<text x="98.6" y="365.3" font-size="11.2" text-anchor="middle">H358</text>
<text x="141.0" y="365.3" font-size="11.2" text-anchor="middle">H1975</text>
<text x="97.8" y="378.8" font-size="11.4" text-anchor="middle">Lung Cancer Cell Line</text>
<text transform="translate(14.0,298.1) rotate(-90)" font-size="11.4" text-anchor="middle">Cytotoxicity (%)</text>
<path d="M47.6 245.8L63.7 244.5M47.6 257.5L63.7 251.3M47.6 270.2L63.7 255.6M47.6 270.2L63.7 261.5M47.6 288.6L63.7 272.3M47.6 297.7L63.7 294.6" stroke="#000" stroke-width="1.3" fill="none"/>
<circle cx="47.6" cy="245.8" r="2.6" fill="#000"/>
<circle cx="47.6" cy="257.5" r="2.6" fill="#000"/>
<circle cx="47.6" cy="270.2" r="2.6" fill="#000"/>
<circle cx="47.6" cy="270.2" r="2.6" fill="#000"/>
<circle cx="47.6" cy="288.6" r="2.6" fill="#000"/>
<circle cx="47.6" cy="297.7" r="2.6" fill="#000"/>
<path d="M63.7 241.4L66.3 246.5L61.1 246.5Z" fill="#ff0000"/>
<path d="M63.7 248.2L66.3 253.3L61.1 253.3Z" fill="#ff0000"/>
<path d="M63.7 252.5L66.3 257.6L61.1 257.6Z" fill="#ff0000"/>
<path d="M63.7 258.4L66.3 263.5L61.1 263.5Z" fill="#ff0000"/>
<path d="M63.7 269.2L66.3 274.3L61.1 274.3Z" fill="#ff0000"/>
<path d="M63.7 291.5L66.3 296.6L61.1 296.6Z" fill="#ff0000"/>
<path d="M90.5 261.3L106.5 249.8M90.5 274.4L106.5 270.4M90.5 296.6L106.5 279.2M90.5 300.3L106.5 291.7M90.5 308.9L106.5 308.7M90.5 314.3L106.5 301.8" stroke="#000" stroke-width="1.3" fill="none"/>
<circle cx="90.5" cy="261.3" r="2.6" fill="#000"/>
<circle cx="90.5" cy="274.4" r="2.6" fill="#000"/>
<circle cx="90.5" cy="296.6" r="2.6" fill="#000"/>
<circle cx="90.5" cy="300.3" r="2.6" fill="#000"/>
<circle cx="90.5" cy="308.9" r="2.6" fill="#000"/>
<circle cx="90.5" cy="314.3" r="2.6" fill="#000"/>
<path d="M106.5 246.7L109.1 251.8L103.9 251.8Z" fill="#ff0000"/>
<path d="M106.5 267.3L109.1 272.4L103.9 272.4Z" fill="#ff0000"/>
<path d="M106.5 276.1L109.1 281.2L103.9 281.2Z" fill="#ff0000"/>
<path d="M106.5 288.6L109.1 293.7L103.9 293.7Z" fill="#ff0000"/>
<path d="M106.5 305.6L109.1 310.7L103.9 310.7Z" fill="#ff0000"/>
<path d="M106.5 298.7L109.1 303.8L103.9 303.8Z" fill="#ff0000"/>
<path d="M133.1 257.2L149.5 248.5M133.1 278.1L149.5 257.7M133.1 287.1L149.5 271.8M133.1 302.2L149.5 289.3M133.1 330.5L149.5 298.2M133.1 339.6L149.5 300.2" stroke="#000" stroke-width="1.3" fill="none"/>
<circle cx="133.1" cy="257.2" r="2.6" fill="#000"/>
<circle cx="133.1" cy="278.1" r="2.6" fill="#000"/>
<circle cx="133.1" cy="287.1" r="2.6" fill="#000"/>
<circle cx="133.1" cy="302.2" r="2.6" fill="#000"/>
<circle cx="133.1" cy="330.5" r="2.6" fill="#000"/>
<circle cx="133.1" cy="339.6" r="2.6" fill="#000"/>
<path d="M149.5 245.4L152.1 250.5L146.9 250.5Z" fill="#ff0000"/>
<path d="M149.5 254.6L152.1 259.7L146.9 259.7Z" fill="#ff0000"/>
<path d="M149.5 268.7L152.1 273.8L146.9 273.8Z" fill="#ff0000"/>
<path d="M149.5 286.2L152.1 291.3L146.9 291.3Z" fill="#ff0000"/>
<path d="M149.5 295.1L152.1 300.2L146.9 300.2Z" fill="#ff0000"/>
<path d="M149.5 297.1L152.1 302.2L146.9 302.2Z" fill="#ff0000"/>
<path d="M47.6 237.3V228.5H63.6V237.3" stroke="#000" stroke-width="1.3" fill="none"/>
<path d="M54.6 218.5L54.6 222.5M56.33 219.5L52.87 221.5M56.33 221.5L52.87 219.5" stroke="#000" stroke-width="1.15" fill="none"/>
<circle cx="54.6" cy="220.5" r="0.9" fill="#000"/>
<path d="M90.4 244.0V228.4H106.4V237.1" stroke="#000" stroke-width="1.3" fill="none"/>
<path d="M97.3 218.5L97.3 222.5M99.03 219.5L95.57 221.5M99.03 221.5L95.57 219.5" stroke="#000" stroke-width="1.15" fill="none"/>
<circle cx="97.3" cy="220.5" r="0.9" fill="#000"/>
<path d="M133.3 241.6V228.6H149.4V236.6" stroke="#000" stroke-width="1.3" fill="none"/>
<path d="M136.9 218.3L136.9 222.3M138.63 219.3L135.17 221.3M138.63 221.3L135.17 219.3" stroke="#000" stroke-width="1.15" fill="none"/>
<circle cx="136.9" cy="220.3" r="0.9" fill="#000"/>
<path d="M144.7 218.3L144.7 222.3M146.43 219.3L142.97 221.3M146.43 221.3L142.97 219.3" stroke="#000" stroke-width="1.15" fill="none"/>
<circle cx="144.7" cy="220.3" r="0.9" fill="#000"/>
<path d="M226.8 242.6V352.9H337.6M226.8 343.2h5M226.8 330.55h3M226.8 317.9h3M226.8 305.25h3M226.8 292.6h5M226.8 279.95h3M226.8 267.3h3M226.8 254.65h3M226.8 242h5M250.5 352.9v-5.5M306.2 352.9v-5.5" stroke="#000" stroke-width="1.25" fill="none"/>
<text x="224.2" y="347.1" font-size="11.0" text-anchor="end">1.0</text>
<text x="224.2" y="296.5" font-size="11.0" text-anchor="end">1.3</text>
<text x="224.2" y="245.9" font-size="11.0" text-anchor="end">1.5</text>
<path d="M338.7 243.2V352.9H394.3M338.7 345.2h5M338.7 340.1h3M338.7 335h3M338.7 329.9h3M338.7 324.8h3M338.7 319.7h5M338.7 314.6h3M338.7 309.5h3M338.7 304.4h3M338.7 299.3h3M338.7 294.2h5M338.7 289.1h3M338.7 284h3M338.7 278.9h3M338.7 273.8h3M338.7 268.7h5M338.7 263.6h3M338.7 258.5h3M338.7 253.4h3M338.7 248.3h3M338.7 243.2h5M365.7 352.9v-5.5" stroke="#000" stroke-width="1.25" fill="none"/>
<text x="336.1" y="349.1" font-size="11.0" text-anchor="end">1</text>
<text x="336.1" y="323.6" font-size="11.0" text-anchor="end">2</text>
<text x="336.1" y="298.1" font-size="11.0" text-anchor="end">3</text>
<text x="336.1" y="272.6" font-size="11.0" text-anchor="end">4</text>
<text x="336.1" y="247.1" font-size="11.0" text-anchor="end">5</text>
<text x="250.5" y="365.2" font-size="11.2" text-anchor="middle">H1299</text>
<text x="305.1" y="365.2" font-size="11.2" text-anchor="middle">H358</text>
<text x="365.5" y="365.2" font-size="11.2" text-anchor="middle">H1975</text>
<text x="309.3" y="376.5" font-size="11.4" text-anchor="middle">Lung Cancer Cell Line</text>
<text transform="translate(203.4,292.2) rotate(-90)" font-size="10.8" text-anchor="middle" xml:space="preserve">Relative  Cytotoxicity</text>
<rect x="233.8" y="340.5" width="13.3" height="12.4" rx="3" fill="#000"/>
<rect x="235.1" y="346.7" width="10.7" height="6.2" fill="#767676"/>
<rect x="254.9" y="319.7" width="11.9" height="33.2" fill="#fbdcdc" stroke="#000" stroke-width="1.8"/>
<path d="M260.85 300.9V337.8M258.05 300.9h5.6M258.05 337.8h5.6" stroke="#ff2020" stroke-width="1.25" fill="none"/>
<path d="M260.8 286.9L263.4 292L258.2 292Z" fill="#ff0000"/>
<path d="M260.8 302.4L263.4 307.5L258.2 307.5Z" fill="#ff0000"/>
<path d="M260.8 319.1L263.4 324.2L258.2 324.2Z" fill="#ff0000"/>
<path d="M256.7 325.1L259.3 330.2L254.1 330.2Z" fill="#ff0000"/>
<path d="M265.1 327.9L267.7 333L262.5 333Z" fill="#ff0000"/>
<path d="M260.8 336L263.4 341.1L258.2 341.1Z" fill="#ff0000"/>
<rect x="288.4" y="340.4" width="14.5" height="12.5" rx="3" fill="#000"/>
<rect x="289.7" y="346.6" width="11.9" height="6.3" fill="#767676"/>
<rect x="310.4" y="308.4" width="11.2" height="44.5" fill="#fbdcdc" stroke="#000" stroke-width="1.8"/>
<path d="M316 280.5V338M313.2 280.5h5.6M313.2 338h5.6" stroke="#ff2020" stroke-width="1.25" fill="none"/>
<path d="M311.8 275.1L314.4 280.2L309.2 280.2Z" fill="#ff0000"/>
<path d="M320.1 271.2L322.7 276.3L317.5 276.3Z" fill="#ff0000"/>
<path d="M316 303.9L318.6 309L313.4 309Z" fill="#ff0000"/>
<path d="M316 313.2L318.6 318.3L313.4 318.3Z" fill="#ff0000"/>
<path d="M316 327.8L318.6 332.9L313.4 332.9Z" fill="#ff0000"/>
<path d="M316 334.7L318.6 339.8L313.4 339.8Z" fill="#ff0000"/>
<rect x="346.4" y="342.8" width="15.9" height="10.1" rx="3" fill="#000"/>
<rect x="347.7" y="349" width="13.3" height="3.9" fill="#767676"/>
<rect x="371.2" y="324.5" width="13.5" height="28.4" fill="#fbdcdc" stroke="#000" stroke-width="1.8"/>
<path d="M377.95 294.7V351.3M375.15 294.7h5.6M375.15 351.3h5.6" stroke="#ff2020" stroke-width="1.25" fill="none"/>
<path d="M377.7 268.6L380.3 273.7L375.1 273.7Z" fill="#ff0000"/>
<path d="M377.7 304.9L380.3 310L375.1 310Z" fill="#ff0000"/>
<path d="M372.5 340.2L375.1 345.3L369.9 345.3Z" fill="#ff0000"/>
<path d="M376.6 335.4L379.2 340.5L374 340.5Z" fill="#ff0000"/>
<path d="M380.8 335.1L383.4 340.2L378.2 340.2Z" fill="#ff0000"/>
<path d="M383.4 335.9L386 341L380.8 341Z" fill="#ff0000"/>
<path d="M239.4 285.3V254.7H260.8V263.2" stroke="#000" stroke-width="1.3" fill="none"/>
<path d="M249.2 244.6L249.2 248.6M250.93 245.6L247.47 247.6M250.93 247.6L247.47 245.6" stroke="#000" stroke-width="1.15" fill="none"/>
<circle cx="249.2" cy="246.6" r="0.9" fill="#000"/>
<path d="M291.2 285.3V254.7H315.6V264.5" stroke="#000" stroke-width="1.3" fill="none"/>
<path d="M302.7 244.6L302.7 248.6M304.43 245.6L300.97 247.6M304.43 247.6L300.97 245.6" stroke="#000" stroke-width="1.15" fill="none"/>
<circle cx="302.7" cy="246.6" r="0.9" fill="#000"/>
<path d="M357.0 287.8V254.1H377.4V263.3" stroke="#000" stroke-width="1.3" fill="none"/>
<path d="M362.6 243.3L362.6 247.3M364.33 244.3L360.87 246.3M364.33 246.3L360.87 244.3" stroke="#000" stroke-width="1.15" fill="none"/>
<circle cx="362.6" cy="245.3" r="0.9" fill="#000"/>
<path d="M371 243.3L371 247.3M372.73 244.3L369.27 246.3M372.73 246.3L369.27 244.3" stroke="#000" stroke-width="1.15" fill="none"/>
<circle cx="371" cy="245.3" r="0.9" fill="#000"/>
</svg>
</body></html>
